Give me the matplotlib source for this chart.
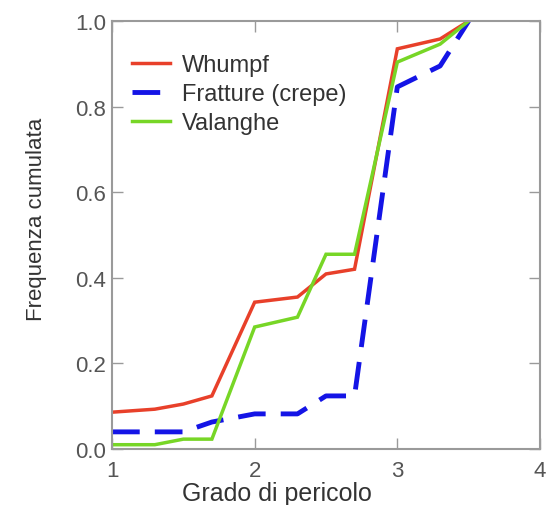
import matplotlib
matplotlib.use("Agg")
import matplotlib.pyplot as plt

plt.rcParams['font.family'] = ['Liberation Sans', 'DejaVu Sans']

# Data
gradi = [1.0, 1.3, 1.5, 1.7, 2.0, 2.3, 2.5, 2.7, 3.0, 3.3, 3.5]
whumpf = [0.086, 0.093, 0.105, 0.124, 0.343, 0.355, 0.409, 0.420, 0.935, 0.958, 1.0]
fratture = [0.040, 0.040, 0.040, 0.063, 0.082, 0.082, 0.124, 0.124, 0.846, 0.895, 1.0]
valanghe = [0.010, 0.010, 0.023, 0.023, 0.285, 0.308, 0.455, 0.455, 0.904, 0.946, 1.0]

labels = ["Whumpf", "Fratture (crepe)", "Valanghe"]
xticks = [1, 2, 3, 4]
yticks = [0.0, 0.2, 0.4, 0.6, 0.8, 1.0]

fig = plt.figure(figsize=(5.54, 5.06), dpi=100)
ax = fig.add_axes([0.2022, 0.1107, 0.7725, 0.8458])

ax.plot(gradi, whumpf, color='#e8402a', lw=2.5, label=labels[0], solid_joinstyle='miter')
ax.plot(gradi, fratture, color='#1414e6', lw=3.5, linestyle=(0, (5.7, 3.1)), label=labels[1])
ax.plot(gradi, valanghe, color='#77d626', lw=2.5, label=labels[2], solid_joinstyle='miter')

ax.set_xlim(1, 4)
ax.set_ylim(0, 1)
ax.set_xticks(xticks)
ax.set_xticklabels([str(t) for t in xticks])
ax.set_yticks(yticks)
ax.set_yticklabels([f"{t:.1f}" for t in yticks])

for s in ax.spines.values():
    s.set_color('#9a9a9a')
    s.set_linewidth(1.5)

ax.tick_params(direction='in', length=8, width=1.0, color='#9a9a9a',
               top=True, right=True, labelsize=16, labelcolor='#555555')
ax.tick_params(axis='x', pad=8)
ax.tick_params(axis='y', pad=4)

ax.set_xlabel("Grado di pericolo", fontsize=18, color='#333333')
ax.xaxis.set_label_coords(0.386, -0.074)
ax.set_ylabel("Frequenza cumulata", fontsize=16, color='#333333')
ax.yaxis.set_label_coords(-0.153, 0.54)

leg = ax.legend(loc='upper left', frameon=False, fontsize=17, handlelength=1.6,
                handletextpad=0.5, labelspacing=0.3, borderaxespad=0.0, borderpad=0.0,
                bbox_to_anchor=(0.047, 0.923))
for t in leg.get_texts():
    t.set_color('#333333')

fig.savefig("out.png", dpi=100)
